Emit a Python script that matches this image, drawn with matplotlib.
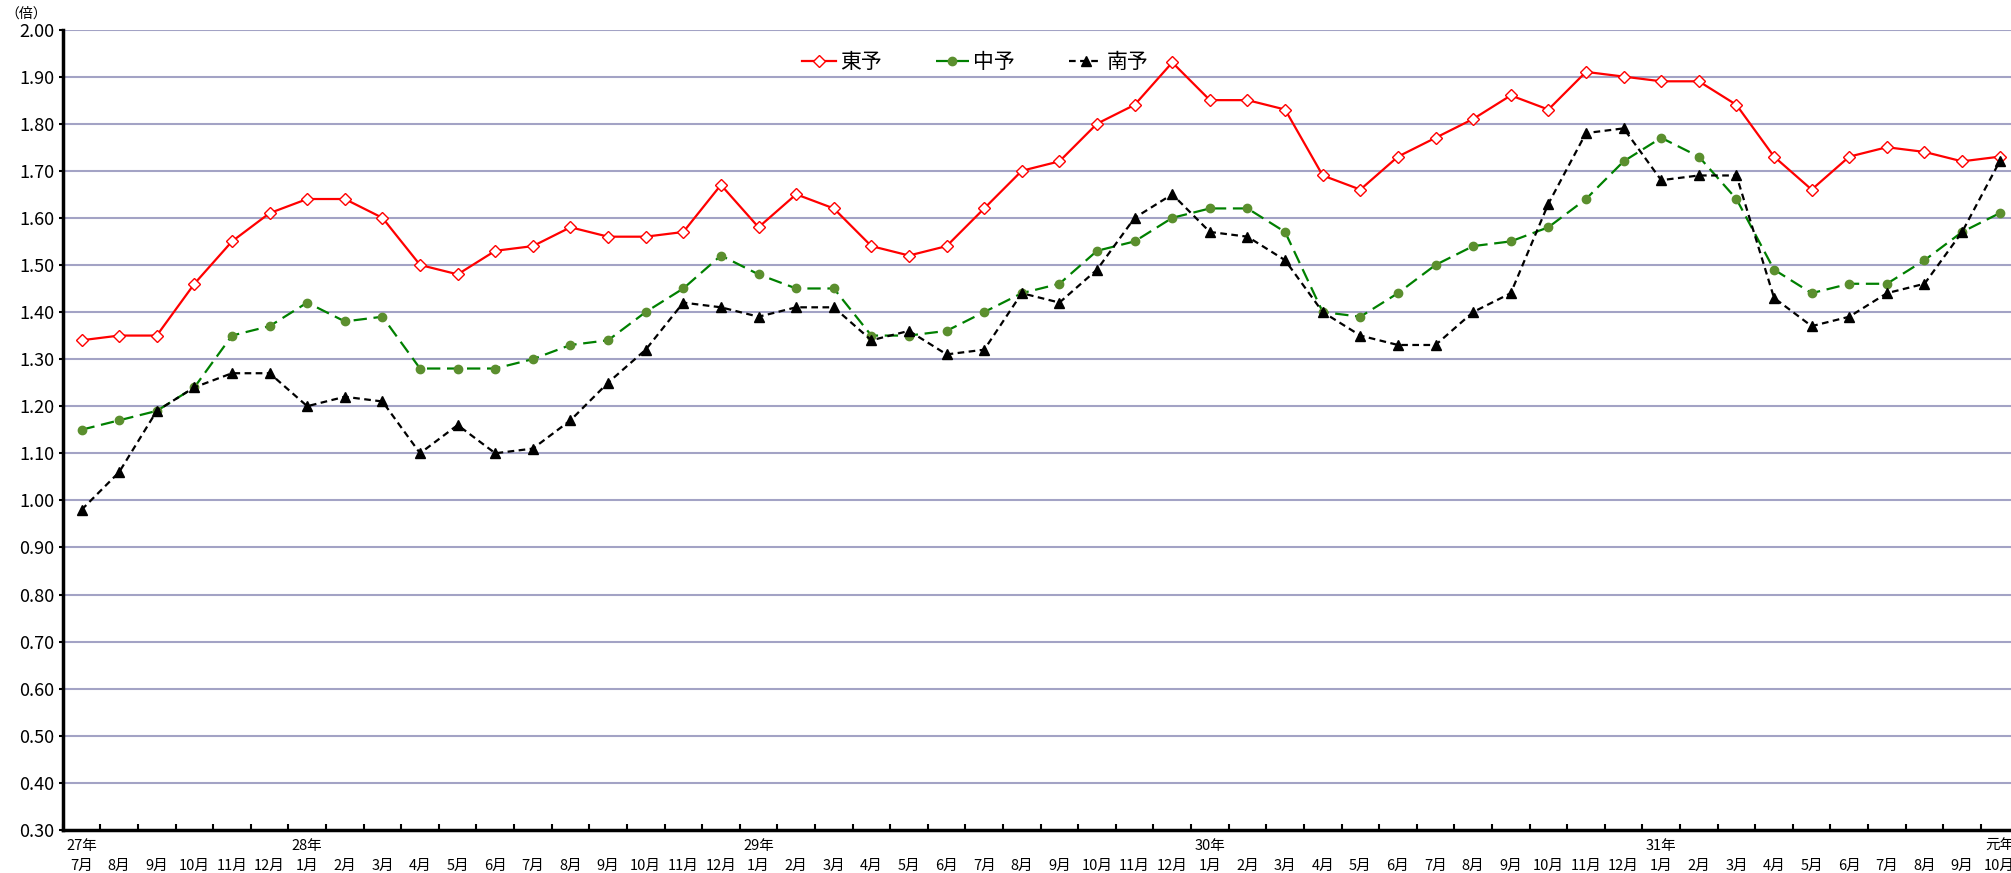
import numpy as np
import matplotlib
matplotlib.use('Agg')
import matplotlib.pyplot as plt

plt.rcParams['font.family'] = ['Noto Sans CJK JP', 'DejaVu Sans']

# months from H27/7 to R1/10
months = ['7月', '8月', '9月', '10月', '11月', '12月',
          '1月', '2月', '3月', '4月', '5月', '6月', '7月', '8月', '9月', '10月', '11月', '12月',
          '1月', '2月', '3月', '4月', '5月', '6月', '7月', '8月', '9月', '10月', '11月', '12月',
          '1月', '2月', '3月', '4月', '5月', '6月', '7月', '8月', '9月', '10月', '11月', '12月',
          '1月', '2月', '3月', '4月', '5月', '6月', '7月', '8月', '9月', '10月']
years = {0: '27年', 6: '28年', 18: '29年', 30: '30年', 42: '31年', 51: '元年'}

toyo = [1.34, 1.35, 1.35, 1.46, 1.55, 1.61, 1.64, 1.64, 1.60, 1.50, 1.48, 1.53, 1.54,
        1.58, 1.56, 1.56, 1.57, 1.67, 1.58, 1.65, 1.62, 1.54, 1.52, 1.54, 1.62, 1.70,
        1.72, 1.80, 1.84, 1.93, 1.85, 1.85, 1.83, 1.69, 1.66, 1.73, 1.77, 1.81, 1.86,
        1.83, 1.91, 1.90, 1.89, 1.89, 1.84, 1.73, 1.66, 1.73, 1.75, 1.74, 1.72, 1.73]
chuyo = [1.15, 1.17, 1.19, 1.24, 1.35, 1.37, 1.42, 1.38, 1.39, 1.28, 1.28, 1.28, 1.30,
         1.33, 1.34, 1.40, 1.45, 1.52, 1.48, 1.45, 1.45, 1.35, 1.35, 1.36, 1.40, 1.44,
         1.46, 1.53, 1.55, 1.60, 1.62, 1.62, 1.57, 1.40, 1.39, 1.44, 1.50, 1.54, 1.55,
         1.58, 1.64, 1.72, 1.77, 1.73, 1.64, 1.49, 1.44, 1.46, 1.46, 1.51, 1.57, 1.61]
nanyo = [0.98, 1.06, 1.19, 1.24, 1.27, 1.27, 1.20, 1.22, 1.21, 1.10, 1.16, 1.10, 1.11,
         1.17, 1.25, 1.32, 1.42, 1.41, 1.39, 1.41, 1.41, 1.34, 1.36, 1.31, 1.32, 1.44,
         1.42, 1.49, 1.60, 1.65, 1.57, 1.56, 1.51, 1.40, 1.35, 1.33, 1.33, 1.40, 1.44,
         1.63, 1.78, 1.79, 1.68, 1.69, 1.69, 1.43, 1.37, 1.39, 1.44, 1.46, 1.57, 1.72]

x = np.arange(len(months))

fig = plt.figure(figsize=(20.11, 8.73), dpi=100)
ax = fig.add_axes([0.0312, 0.0493, 1 - 0.0312, 0.9662 - 0.0493])

ax.plot(x, toyo, color='#FF0000', lw=1.6, marker='D', ms=6, mfc='white', mec='#FF0000',
        mew=1.0, label='東予', zorder=3)
ax.plot(x, chuyo, color='#008000', lw=1.6, dashes=(6, 3), marker='o', ms=6, mfc='#5B8F2E',
        mec='#5B8F2E', label='中予', zorder=3)
ax.plot(x, nanyo, color='black', lw=1.6, dashes=(3, 2), marker='^', ms=7, mfc='black',
        mec='black', label='南予', zorder=3)

ax.set_xlim(-0.5, 51.3)
ax.set_ylim(0.30, 2.00)
ax.set_yticks(np.arange(0.3, 2.001, 0.1))
ax.set_yticklabels(['%.2f' % v for v in np.arange(0.3, 2.001, 0.1)], fontsize=13)
for v in np.arange(0.4, 2.001, 0.1):
    ax.axhline(v, color='#A3A3C5', lw=1.5, zorder=1)

ax.set_xticks(np.arange(-0.5, 51.5, 1))
ax.set_xticklabels([])
ax.tick_params(axis='x', direction='in', length=4, width=1.5)
ax.tick_params(axis='y', direction='out', length=3, width=1.5, pad=3)

for s in ['top', 'right']:
    ax.spines[s].set_visible(False)
for s in ['left', 'bottom']:
    ax.spines[s].set_linewidth(2.5)

tr = ax.get_xaxis_transform()
for i, m in enumerate(months):
    ax.text(i, -0.045, m, transform=tr, ha='center', va='center', fontsize=10.5)
for i, y in years.items():
    ax.text(i, -0.02, y, transform=tr, ha='center', va='center', fontsize=10.5)

fig.text(26 / 2011, 1 - 14 / 873, '（倍）', ha='center', va='center', fontsize=10)

fig.legend(loc='center', bbox_to_anchor=(0.485, 0.929), ncol=3, frameon=False,
           fontsize=15, handlelength=1.6, handletextpad=0.2, columnspacing=2.6)

fig.savefig('out.png', dpi=100)
